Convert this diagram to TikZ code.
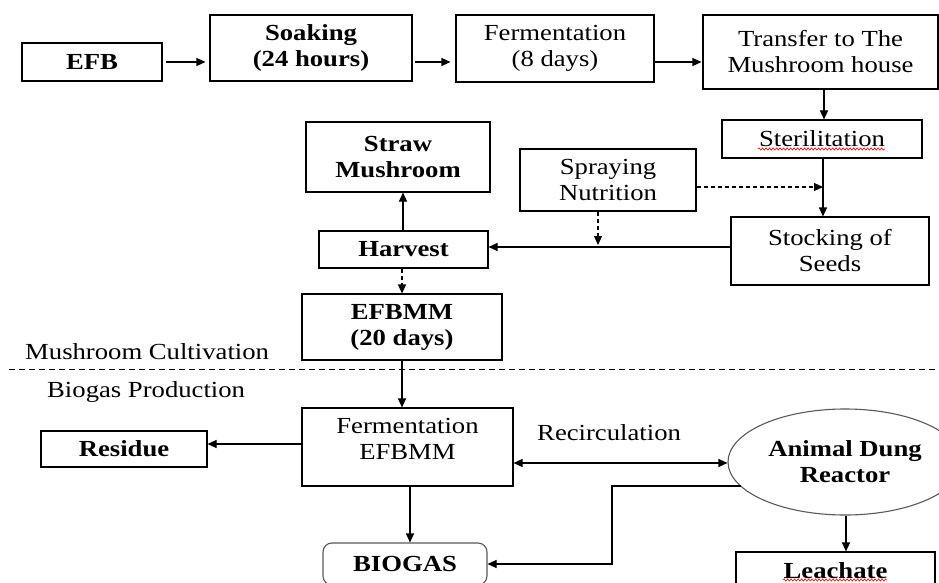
\documentclass[tikz,border=0pt]{standalone}
\usepackage{fontspec}
\setmainfont[FakeStretch=1.16]{Liberation Serif}
\usetikzlibrary{arrows.meta,shapes.geometric,decorations.pathmorphing,calc}
\begin{document}
\begin{tikzpicture}[x=1pt,y=-1pt,
  box/.style={draw, line width=1.1pt, rectangle, inner sep=0pt, align=center,
    font=\fontsize{23}{26}\selectfont},
  txt/.style={inner sep=0pt, align=center, font=\fontsize{23}{26}\selectfont},
  arr/.style={line width=1.1pt, -{Triangle[length=9pt,width=8pt]}},
  darr/.style={arr, dash pattern=on 4pt off 3pt},
  wavy/.style={red, line width=0.6pt, decorate,
    decoration={snake, amplitude=1.1pt, segment length=3.5pt}},
  grayline/.style={draw=black!65}]
\clip (0,0) rectangle (939,583);
\fill[white] (0,0) rectangle (939,583);

% top row
\node[box, minimum width=140, minimum height=38] (efb) at (92,62) {\textbf{EFB}};
\node[box, minimum width=202, minimum height=66] (soak) at (311,48) {\textbf{Soaking}\\\textbf{(24 hours)}};
\node[box, minimum width=198, minimum height=67] (ferm) at (555,48.5) {Fermentation\\(8 days)};
\node[box, minimum width=235, minimum height=74] (trans) at (820.5,52) {Transfer to The\\Mushroom house};

% mushroom part
\node[box, minimum width=200, minimum height=38] (steril) at (822,139) {Sterilitation};
\node[box, minimum width=176, minimum height=62] (spray) at (608,180) {Spraying\\Nutrition};
\node[box, minimum width=198, minimum height=68] (stock) at (830,251) {Stocking of\\Seeds};
\node[box, minimum width=169, minimum height=37] (harvest) at (403.5,249.5) {\textbf{Harvest}};
\node[box, minimum width=184, minimum height=70] (straw) at (398,157) {\textbf{Straw}\\\textbf{Mushroom}};
\node[box, minimum width=200, minimum height=66] (efbmm) at (402,327) {\textbf{EFBMM}\\\textbf{(20 days)}};

% separator
\coordinate (sepL) at (9,369);
\coordinate (sepR) at (939,369);
\draw[line width=1pt, dash pattern=on 6pt off 4pt] (sepL) -- (sepR);
\node[txt, anchor=base west] (lblmc) at (25,359) {Mushroom Cultivation};
\node[txt, anchor=base west] (lblbp) at (47,397) {Biogas Production};

% biogas part
\node[box, minimum width=211, minimum height=78] (fermE) at (407.5,447) {};
\node[txt] (fermEt) at (407.5,439) {Fermentation\\EFBMM};
\node[box, minimum width=166, minimum height=36] (residue) at (124,449) {\textbf{Residue}};
\node[box, grayline, rounded corners=9pt, minimum width=164, minimum height=42] (biogas) at (405,564) {\textbf{BIOGAS}};
\node[draw=black!65, line width=1.1pt, ellipse, inner sep=0pt, minimum width=234, minimum height=106,
  align=center, font=\fontsize{23}{26}\selectfont] (dung) at (845,462) {\textbf{Animal Dung}\\\textbf{Reactor}};
\node[box, minimum width=199, minimum height=38] (leach) at (835.5,571) {\textbf{Leachate}};
\node[txt, anchor=base west] (lblrec) at (537,440) {Recirculation};

% spell-check underlines
\draw[wavy] (758,149) -- (885,149);
\draw[wavy] (783,580) -- (887,580);

% connectors top
\draw[arr, shorten <=3pt, shorten >=4pt] (efb.east) -- (efb.east -| soak.west);
\draw[arr, shorten <=2pt, shorten >=5pt] (efb.east -| soak.east) -- (efb.east -| ferm.west);
\draw[arr, shorten >=1pt] (efb.east -| ferm.east) -- (efb.east -| trans.west);
\coordinate (tx) at (824,0);
\draw[arr] (trans.south -| tx) -- (steril.north -| tx);
\coordinate (sx) at (823,0);
\draw[arr] (steril.south -| sx) -- (stock.north -| sx);
\coordinate (sy) at (0,187);
\draw[darr] (spray.east |- sy) -- (sx |- sy);
\coordinate (hy) at (0,247);
\draw[arr] (stock.west |- hy) -- (harvest.east |- hy);
\coordinate (spx) at (598,0);
\coordinate (spend) at (598,245);
\draw[darr] (spray.south -| spx) -- (spend);
\coordinate (hx) at (403,0);
\draw[arr] (harvest.north -| hx) -- (straw.south -| hx);
\coordinate (ex) at (402,0);
\draw[darr] (harvest.south -| ex) -- (efbmm.north -| ex);
\draw[arr] (efbmm.south -| ex) -- (fermE.north -| ex);

% connectors bottom
\coordinate (ry) at (0,444);
\draw[arr] (fermE.west |- ry) -- (residue.east |- ry);
\coordinate (bx) at (410,0);
\draw[arr] (fermE.south -| bx) -- (biogas.north -| bx);
\coordinate (recy) at (0,463);
\draw[line width=1.1pt, {Triangle[length=9pt,width=8pt]}-{Triangle[length=9pt,width=8pt]}]
  (fermE.east |- recy) -- (dung.west |- recy);
\path (dung.center) ++(-104.3,24) coordinate (dk);
\coordinate (k1) at (612,486);
\coordinate (k2) at (612,564);
\draw[arr] (dk) -- (k1) -- (k2) -- (biogas.east |- k2);
\coordinate (lx) at (846,0);
\draw[arr] (dung.south -| lx) -- (leach.north -| lx);
\end{tikzpicture}
\end{document}
